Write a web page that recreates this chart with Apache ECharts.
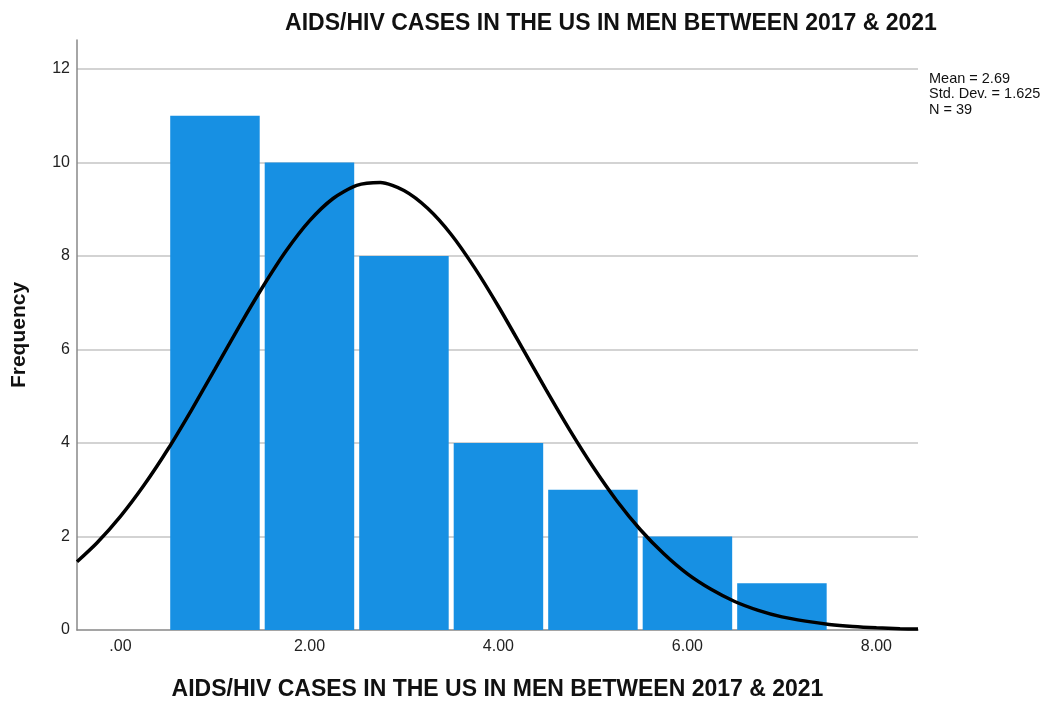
<!DOCTYPE html>
<html>
<head>
<meta charset="utf-8">
<script src="https://cdn.jsdelivr.net/npm/echarts@6/dist/echarts.min.js"></script>
<style>html,body{margin:0;padding:0;background:#fff}#c{width:1054px;height:702px}</style>
</head>
<body>
<div id="c"></div>
<script>
const titleText = 'AIDS/HIV CASES IN THE US IN MEN BETWEEN 2017 & 2021';
const xAxisName = 'AIDS/HIV CASES IN THE US IN MEN BETWEEN 2017 & 2021';
const yAxisName = 'Frequency';
const binCenters = [1, 2, 3, 4, 5, 6, 7];
const binWidth = 1;
const frequencies = [11, 10, 8, 4, 3, 2, 1];
const xTicks = [0, 2, 4, 6, 8];
const yTicks = [0, 2, 4, 6, 8, 10, 12];
const curveX = [-0.46, -0.25, 0, 0.25, 0.5, 0.75, 1, 1.25, 1.5, 1.75, 2, 2.25, 2.5, 2.75, 3, 3.25, 3.5, 3.75, 4, 4.25, 4.5, 4.75, 5, 5.25, 5.5, 5.75, 6, 6.25, 6.5, 6.75, 7, 7.25, 7.5, 7.75, 8, 8.25, 8.44];
const curveY = [1.46, 1.86, 2.43, 3.10, 3.86, 4.70, 5.58, 6.47, 7.32, 8.10, 8.75, 9.23, 9.51, 9.57, 9.40, 9.02, 8.46, 7.74, 6.92, 6.04, 5.15, 4.29, 3.49, 2.77, 2.15, 1.63, 1.20, 0.87, 0.61, 0.42, 0.28, 0.19, 0.12, 0.075, 0.046, 0.027, 0.02];
const statsLines = ['Mean = 2.69', 'Std. Dev. = 1.625', 'N = 39'];

const chart = echarts.init(document.getElementById('c'), null, {renderer: 'canvas'});
const font = '"Liberation Sans", Arial, sans-serif';
chart.setOption({
  animation: false,
  backgroundColor: '#ffffff',
  title: {
    text: titleText, left: 606, top: 7, textAlign: 'center',
    textStyle: {fontFamily: font, fontSize: 23, fontWeight: 'bold', color: '#111'}
  },
  grid: {left: 77, right: 136, top: 40, bottom: 72, outerBoundsMode: 'none', containLabel: false},
  xAxis: {
    type: 'value', min: -0.46, max: 8.44,
    name: xAxisName, nameLocation: 'middle', nameGap: 48,
    nameTextStyle: {fontFamily: font, fontSize: 23, fontWeight: 'bold', color: '#111'},
    axisLine: {show: true, onZero: false, lineStyle: {color: '#888', width: 1.5}},
    axisTick: {show: false},
    splitLine: {show: false},
    axisLabel: {
      customValues: xTicks, margin: 9,
      fontFamily: font, fontSize: 16, color: '#222',
      formatter: v => v === 0 ? '.00' : v.toFixed(2)
    }
  },
  yAxis: {
    type: 'value', min: 0, max: 12.62, interval: 2,
    name: yAxisName, nameLocation: 'middle', nameGap: 47, nameRotate: 90,
    nameTextStyle: {fontFamily: font, fontSize: 21, fontWeight: 'bold', color: '#111'},
    axisLine: {show: true, onZero: false, lineStyle: {color: '#888', width: 1.5}},
    axisTick: {show: false},
    splitLine: {show: true, showMinLine: false, showMaxLine: false, lineStyle: {color: '#c4c4c4', width: 1.5}},
    axisLabel: {
      customValues: yTicks, margin: 7,
      fontFamily: font, fontSize: 16, color: '#222'
    }
  },
  graphic: statsLines.map((t, i) => ({
    type: 'text', left: 929, top: 71 + i * 15.5,
    style: {text: t, font: '14.5px "Liberation Sans", Arial, sans-serif', fill: '#111'}
  })),
  series: [
    {
      type: 'custom',
      data: binCenters.map((c, i) => [c, frequencies[i]]),
      renderItem: (params, api) => {
        const c = api.value(0), f = api.value(1);
        const p0 = api.coord([c - binWidth / 2, f]);
        const p1 = api.coord([c + binWidth / 2, 0]);
        const inset = 2.5;
        return {
          type: 'rect',
          shape: {x: p0[0] + inset, y: p0[1], width: p1[0] - p0[0] - 2 * inset, height: p1[1] - p0[1]},
          style: {fill: '#1790e3'}
        };
      },
      z: 2
    },
    {
      type: 'line',
      data: curveX.map((x, i) => [x, curveY[i]]),
      smooth: 0.25,
      showSymbol: false,
      lineStyle: {color: '#000', width: 3.5},
      clip: true,
      z: 3
    }
  ]
});
</script>
</body>
</html>
